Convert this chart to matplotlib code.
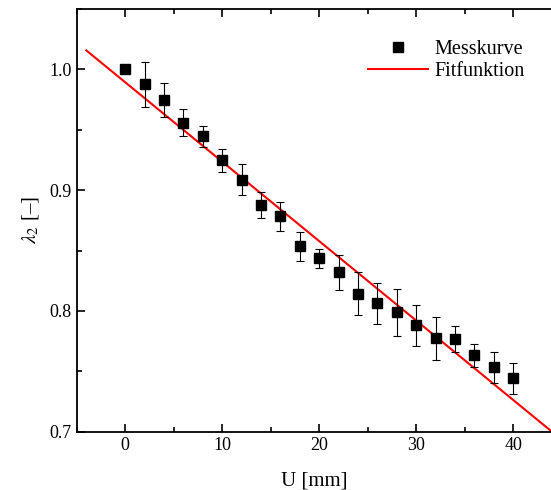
import matplotlib
matplotlib.use('Agg')
import matplotlib.pyplot as plt
import numpy as np
from matplotlib.ticker import MultipleLocator, FormatStrFormatter
from matplotlib.lines import Line2D

plt.rcParams['font.family'] = ['Liberation Serif', 'DejaVu Serif']
plt.rcParams['mathtext.fontset'] = 'stix'

# measured data
u_mm = [0, 2, 4, 6, 8, 10, 12, 14, 16, 18, 20, 22, 24, 26, 28, 30, 32, 34, 36, 38, 40]
lambda2 = [1.000, 0.9876, 0.9746, 0.956, 0.9445, 0.9246, 0.9086, 0.8876, 0.8785, 0.8536,
           0.8437, 0.832, 0.8144, 0.8064, 0.7987, 0.788, 0.7774, 0.7769, 0.7633, 0.7534, 0.7443]
lambda2_err = [0.0, 0.0186, 0.014, 0.011, 0.009, 0.0098, 0.013, 0.011, 0.012, 0.012,
               0.0079, 0.0146, 0.0175, 0.017, 0.0193, 0.017, 0.0178, 0.011, 0.0097, 0.013, 0.0127]

# linear fit function
fit_start, fit_end = -4, 44
fit_slope = -0.00658
fit_intercept = 0.9894

fig = plt.figure(figsize=(5.51, 4.90), dpi=100)
ax = fig.add_axes([0.139, 0.119, 0.863, 0.8626])

x_fit = np.array([fit_start, fit_end])
ax.plot(x_fit, fit_intercept + fit_slope * x_fit, color='red', lw=1.5, zorder=2)
ax.errorbar(u_mm, lambda2, yerr=lambda2_err, fmt='s', color='black', ms=6.5,
            ecolor='black', elinewidth=0.8, capsize=3, capthick=0.8, zorder=3)

ax.set_xlim(-5, 44)
ax.set_ylim(0.7, 1.05)
ax.xaxis.set_major_locator(MultipleLocator(10))
ax.xaxis.set_minor_locator(MultipleLocator(5))
ax.yaxis.set_major_locator(MultipleLocator(0.1))
ax.yaxis.set_minor_locator(MultipleLocator(0.05))
ax.yaxis.set_major_formatter(FormatStrFormatter('%.1f'))
ax.tick_params(which='both', direction='in', top=True, right=False, labelsize=13, width=1.2)
ax.tick_params(which='major', length=6)
ax.tick_params(which='minor', length=3.5)
for s in ax.spines.values():
    s.set_linewidth(1.3)
ax.spines['right'].set_visible(False)

ax.set_xlabel('U [mm]', fontsize=15, labelpad=13)
ax.set_ylabel(r'$\lambda_2$ [–]', fontsize=15, labelpad=6)

handles = [Line2D([], [], ls='none', marker='s', color='black', ms=6.5),
           Line2D([], [], color='red', lw=1.5)]
ax.legend(handles, ['Messkurve', 'Fitfunktion'], loc='upper right', bbox_to_anchor=(0.98, 0.97),
          frameon=False, fontsize=14.5, handlelength=3, handletextpad=0.3, labelspacing=0.15)

fig.savefig('out.png', dpi=100)
